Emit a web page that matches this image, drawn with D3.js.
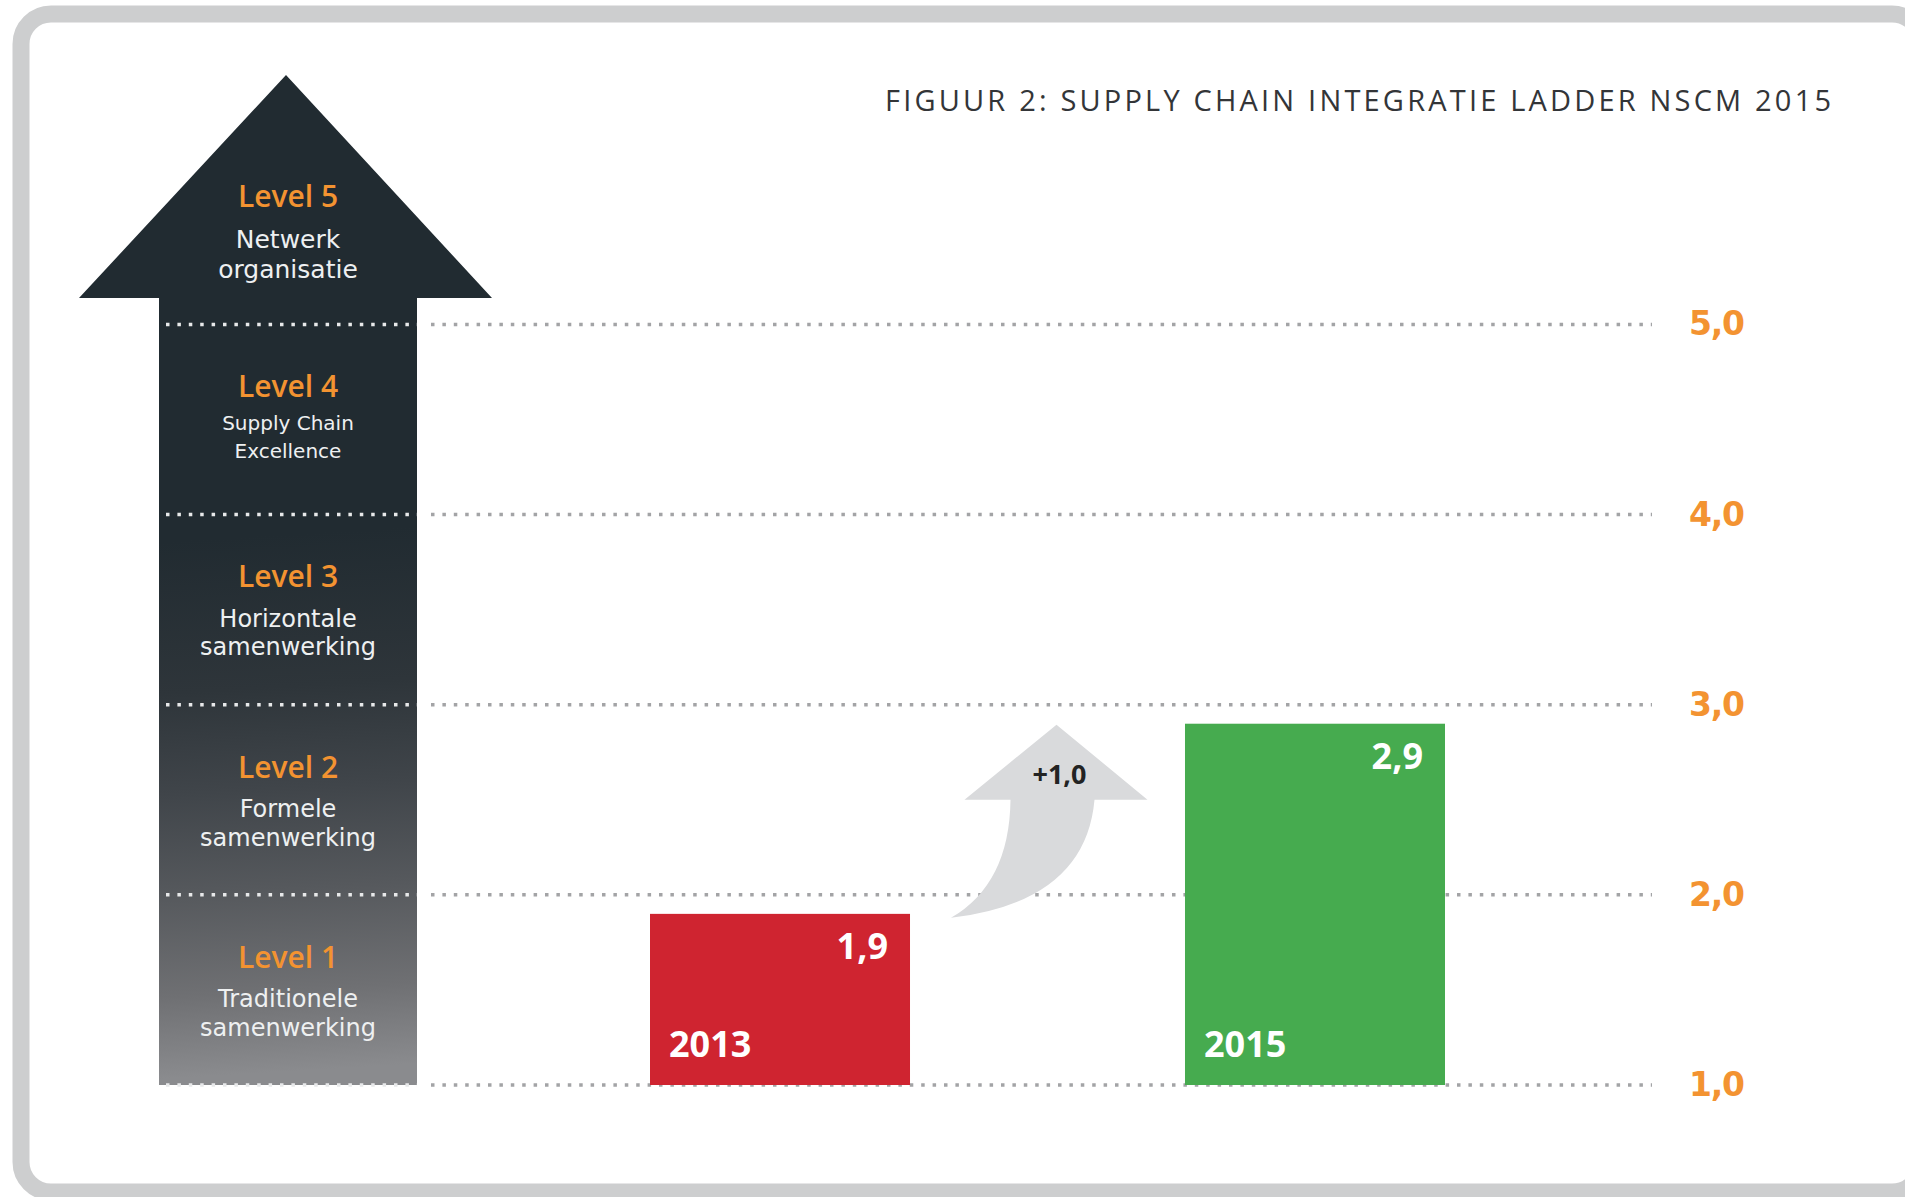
<!DOCTYPE html>
<html>
<head>
<meta charset="utf-8">
<script src="https://cdn.jsdelivr.net/npm/d3@7/dist/d3.min.js"></script>
<style>
  html, body { margin: 0; padding: 0; background: #ffffff; }
  svg { display: block; }
</style>
</head>
<body>
<script>
// ---------- data ----------
const title = "FIGUUR 2: SUPPLY CHAIN INTEGRATIE LADDER NSCM 2015";
const levels = [1, 2, 3, 4, 5];
const levelNames = ["Level 1", "Level 2", "Level 3", "Level 4", "Level 5"];
const levelDescriptions = [
  ["Traditionele", "samenwerking"],
  ["Formele", "samenwerking"],
  ["Horizontale", "samenwerking"],
  ["Supply Chain", "Excellence"],
  ["Netwerk", "organisatie"]
];
const years = ["2013", "2015"];
const scores = [1.9, 2.9];
const scoreLabels = ["1,9", "2,9"];
const tickValues = [1, 2, 3, 4, 5];
const tickLabels = ["1,0", "2,0", "3,0", "4,0", "5,0"];
const changeLabel = "+1,0";

// ---------- layout ----------
const W = 1905, H = 1197;
const svg = d3.select("body").append("svg").attr("width", W).attr("height", H);

const y = d3.scaleLinear().domain([1, 5]).range([1085, 324.4]);
const x = d3.scaleBand().domain(years).range([650, 1445]).paddingInner(0.514).paddingOuter(0);

const ORANGE = "#f39331";
const LABEL_FONT = "'Open Sans', 'Noto Sans', sans-serif";
const SUB_FONT = "'DejaVu Sans', sans-serif";

// frame
svg.append("rect")
  .attr("x", 21).attr("y", 14)
  .attr("width", 1901).attr("height", 1178)
  .attr("rx", 30).attr("ry", 30)
  .attr("fill", "#ffffff")
  .attr("stroke", "#cdcecf").attr("stroke-width", 17);

// title
svg.append("text")
  .attr("x", 885).attr("y", 111)
  .attr("textLength", 946).attr("lengthAdjust", "spacing")
  .attr("font-family", LABEL_FONT).attr("font-size", 29)
  .attr("fill", "#333538")
  .text(title);

// gradient for ladder arrow
const defs = svg.append("defs");
const grad = defs.append("linearGradient")
  .attr("id", "ladderGrad").attr("gradientUnits", "userSpaceOnUse")
  .attr("x1", 0).attr("y1", 75).attr("x2", 60).attr("y2", y(1));
[[0, "#212b31"], [0.47, "#212b31"], [0.62, "#2e353a"], [0.72, "#40454a"],
 [0.82, "#56595d"], [0.92, "#6f7073"], [1, "#8a8b8e"]]
  .forEach(([o, c]) => grad.append("stop").attr("offset", o).attr("stop-color", c));

// ladder arrow
const shaftL = 159, shaftR = 417, headL = 79, headR = 492, tipX = 286, tipY = 75, headY = 298;
svg.append("path")
  .attr("d", `M${tipX},${tipY} L${headR},${headY} L${shaftR},${headY} L${shaftR},${y(1)} L${shaftL},${y(1)} L${shaftL},${headY} L${headL},${headY} Z`)
  .attr("fill", "url(#ladderGrad)");

// grid lines (dotted)
const grid = svg.append("g");
grid.selectAll("line.in").data(tickValues).join("line")
  .attr("class", "in")
  .attr("x1", 166).attr("x2", 417)
  .attr("y1", d => y(d)).attr("y2", d => y(d))
  .attr("stroke", "#e8e9ea").attr("stroke-width", 3.5)
  .attr("stroke-dasharray", "3.5 7.9");
grid.selectAll("line.out").data(tickValues).join("line")
  .attr("class", "out")
  .attr("x1", 431).attr("x2", 1652)
  .attr("y1", d => y(d)).attr("y2", d => y(d))
  .attr("stroke", "#a3a4a6").attr("stroke-width", 3.5)
  .attr("stroke-dasharray", "3.5 7.9");

// level labels
const levelCx = (shaftL + shaftR) / 2;
const lv = svg.append("g").attr("text-anchor", "middle");
levels.forEach((L, i) => {
  const c = y(L + 0.5);
  lv.append("text")
    .attr("x", levelCx).attr("y", c - 33 + 0.36 * 30)
    .attr("font-family", LABEL_FONT)
    .attr("font-size", 30).attr("font-weight", 600)
    .attr("fill", ORANGE)
    .text(levelNames[i]);
  const fs = L === 5 ? 25 : (L === 4 ? 20 : 24);
  const offs = L === 5 ? [10, 40] : (L === 4 ? [3, 31] : [8.5, 37]);
  levelDescriptions[i].forEach((s, j) => {
    lv.append("text")
      .attr("x", levelCx).attr("y", c + offs[j] + 0.365 * fs)
      .attr("font-family", SUB_FONT)
      .attr("font-size", fs)
      .attr("fill", "#eef0f1")
      .text(s);
  });
});

// bars
const barColors = ["#cf2430", "#46ab4f"];
const bars = svg.append("g");
bars.selectAll("rect").data(years).join("rect")
  .attr("x", d => x(d))
  .attr("y", (d, i) => y(scores[i]))
  .attr("width", x.bandwidth())
  .attr("height", (d, i) => y(1) - y(scores[i]))
  .attr("fill", (d, i) => barColors[i]);

// value labels
bars.selectAll("text.val").data(years).join("text")
  .attr("class", "val")
  .attr("x", d => x(d) + x.bandwidth() - 22)
  .attr("y", (d, i) => y(scores[i]) + 32 + 0.36 * 36)
  .attr("text-anchor", "end")
  .attr("font-family", LABEL_FONT).attr("font-weight", 700).attr("font-size", 36)
  .attr("fill", "#ffffff")
  .text((d, i) => scoreLabels[i]);

// year labels
bars.selectAll("text.yr").data(years).join("text")
  .attr("class", "yr")
  .attr("x", d => x(d) + 19)
  .attr("y", y(1) - 41 + 0.36 * 36)
  .attr("font-family", LABEL_FONT).attr("font-weight", 700).attr("font-size", 36)
  .attr("fill", "#ffffff")
  .text(d => d);

// curved change arrow between bars
const x0 = x(years[0]) + x.bandwidth(), x1 = x(years[1]);
const mid = (x0 + x1) / 2;
const tY = y(scores[1]) + 1;
const bY = tY + 75;
const tailX = x0 + 41, tailY = y(scores[0]) + 4;
svg.append("path")
  .attr("d", `M${mid + 9},${tY} L${mid + 100},${bY} L${mid + 47},${bY} ` +
             `Q${mid + 38},${bY + 102} ${tailX},${tailY} ` +
             `Q${mid - 38},${bY + 84} ${mid - 37},${bY} ` +
             `L${mid - 83},${bY} Z`)
  .attr("fill", "#d9dadc");
svg.append("text")
  .attr("x", mid + 12).attr("y", bY - 25 + 0.36 * 27)
  .attr("text-anchor", "middle")
  .attr("font-family", LABEL_FONT).attr("font-weight", 700).attr("font-size", 27)
  .attr("fill", "#232323")
  .text(changeLabel);

// right axis with tick labels
const axis = svg.append("g")
  .attr("transform", "translate(1689,0)")
  .call(d3.axisRight(y).tickValues(tickValues)
    .tickFormat((d, i) => tickLabels[i]).tickSize(0).tickPadding(0));
axis.select(".domain").remove();
axis.selectAll("text")
  .attr("fill", ORANGE)
  .attr("font-family", "'DejaVu Sans', Verdana, sans-serif")
  .attr("font-weight", 700)
  .attr("font-size", 33)
  .attr("letter-spacing", -1.2);
</script>
</body>
</html>
